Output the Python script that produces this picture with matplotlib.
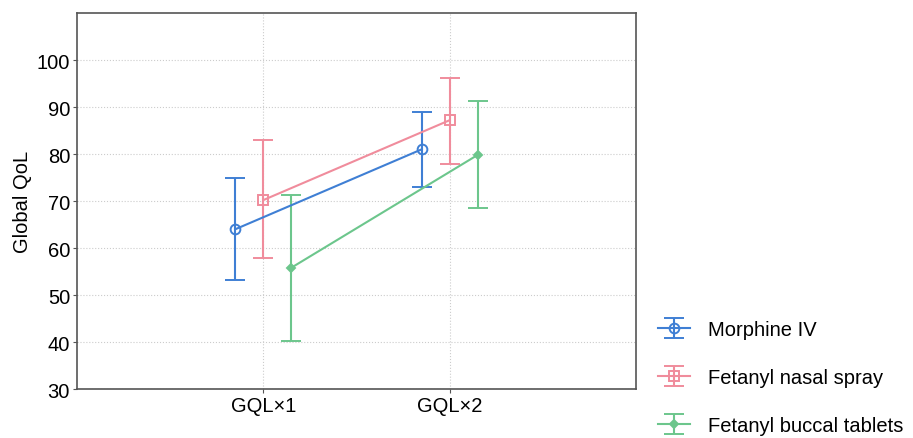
import matplotlib.pyplot as plt
import numpy as np

plt.rcParams['font.family'] = ['Liberation Sans', 'DejaVu Sans']

# Data
groups = ['GQL×1', 'GQL×2']
series = ['Morphine IV', 'Fetanyl nasal spray', 'Fetanyl buccal tablets']
means = [[64.0, 81.0], [70.2, 87.2], [55.8, 79.8]]
lower = [[53.3, 73.0], [57.9, 77.9], [40.2, 68.5]]
upper = [[74.8, 88.9], [83.0, 96.2], [71.2, 91.3]]

colors = ['#3f7fd4', '#f08c9c', '#6cc68c']
markers = ['o', 's', 'D']
offsets = [-0.15, 0.0, 0.15]

fig = plt.figure(figsize=(9.13, 4.39), dpi=100)
ax = fig.add_axes([0.0843, 0.1116, 0.6123, 0.8564])

x = np.arange(1, len(groups) + 1)
handles = []
for i, name in enumerate(series):
    m = np.array(means[i])
    lo = m - np.array(lower[i])
    hi = np.array(upper[i]) - m
    filled = markers[i] == 'D'
    h = ax.errorbar(x + offsets[i], m, yerr=[lo, hi], color=colors[i],
                    marker=markers[i], markersize=4 if filled else 7,
                    markerfacecolor=colors[i] if filled else 'none',
                    markeredgewidth=1.4, linewidth=1.5, elinewidth=1.5,
                    capsize=7, capthick=1.5, label=name)
    handles.append(h)

ax.set_xlim(0, 3)
ax.set_ylim(30, 110)
ax.set_xticks(x)
ax.set_xticklabels(groups)
ax.set_yticks(range(30, 101, 10))
ax.tick_params(labelsize=14.5, length=3, color='#555555', pad=2)
ax.set_ylabel('Global QoL', fontsize=14.5, labelpad=3)
ax.grid(True, linestyle=':', color='#cccccc', linewidth=0.8)
ax.set_axisbelow(True)
for s in ax.spines.values():
    s.set_color('#555555')
    s.set_linewidth(1.2)

fig.legend(handles=handles, loc='upper left', bbox_to_anchor=(0.712, 0.288),
           frameon=False, fontsize=14.5, labelspacing=1.45, handlelength=1.6,
           handletextpad=0.9, borderaxespad=0)

fig.savefig('out.png', dpi=100)
